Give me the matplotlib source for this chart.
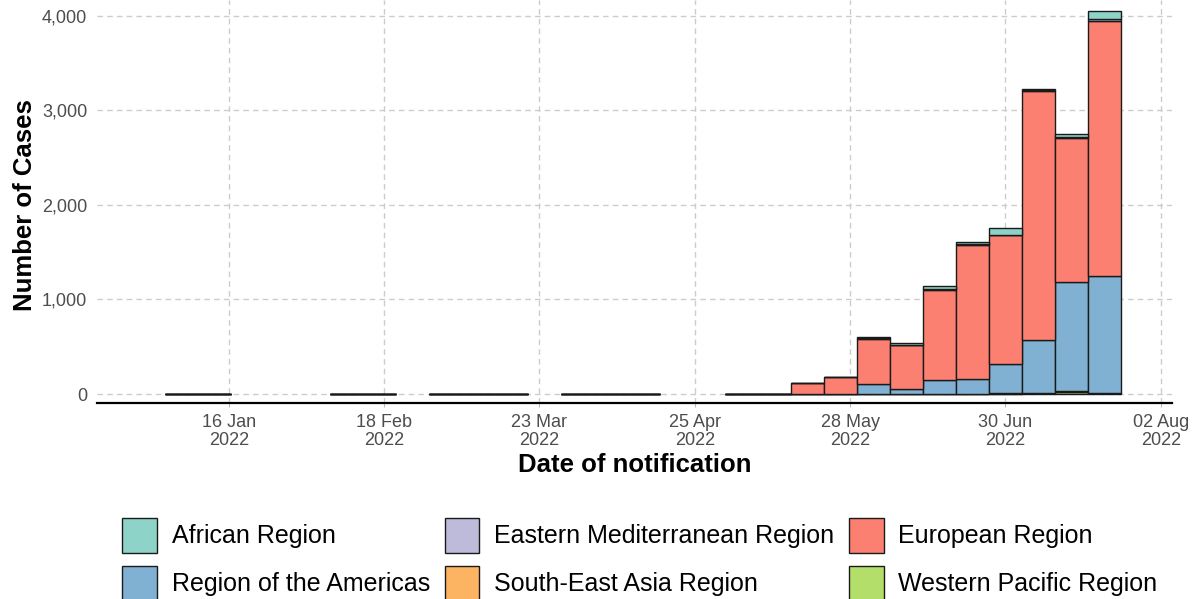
import numpy as np
import pandas as pd
import matplotlib
matplotlib.use("Agg")
import matplotlib.pyplot as plt
import matplotlib.dates as mdates
from matplotlib.patches import Patch
from matplotlib.ticker import FuncFormatter

plt.rcParams['font.family'] = ['Liberation Sans', 'DejaVu Sans']

# week centres (date of notification)
weeks = ["2022-01-06", "2022-01-13", "2022-02-10", "2022-02-17", "2022-03-03",
         "2022-03-10", "2022-03-17", "2022-03-31", "2022-04-07", "2022-04-14",
         "2022-05-05", "2022-05-12", "2022-05-19", "2022-05-26", "2022-06-02",
         "2022-06-09", "2022-06-16", "2022-06-23", "2022-06-30", "2022-07-07",
         "2022-07-14", "2022-07-21"]

# cases per region, stacked bottom -> top
western_pacific = [0]*12 + [0, 0, 3, 2, 3, 4, 5, 12, 20, 12]
south_east_asia = [0]*12 + [0, 0, 0, 0, 1, 1, 2, 3, 8, 2]
americas        = [0]*12 + [0, 5, 100, 55, 140, 158, 315, 553, 1157, 1238]
european        = [0]*12 + [118, 170, 480, 462, 955, 1412, 1357, 2640, 1520, 2692]
eastern_med     = [0]*12 + [0, 2, 5, 4, 8, 8, 5, 4, 8, 20]
african         = [0]*12 + [0, 8, 15, 12, 30, 25, 76, 8, 38, 80]

regions = ["Western Pacific Region", "South-East Asia Region", "Region of the Americas",
           "European Region", "Eastern Mediterranean Region", "African Region"]
series = [western_pacific, south_east_asia, americas, european, eastern_med, african]
colors = {"African Region": "#8DD3C7", "Eastern Mediterranean Region": "#BEBADA",
          "European Region": "#FB8072", "Region of the Americas": "#80B1D3",
          "South-East Asia Region": "#FDB462", "Western Pacific Region": "#B3DE69"}

tick_dates = ["2022-01-16", "2022-02-18", "2022-03-23", "2022-04-25",
              "2022-05-28", "2022-06-30", "2022-08-02"]

x = mdates.date2num(pd.to_datetime(weeks))

fig = plt.figure(figsize=(11.93, 5.99), dpi=100)
ax = fig.add_axes([97/1193, 1 - 403/599, 1075/1193, 403/599])

bottom = np.zeros(len(weeks))
for name, vals in zip(regions, series):
    vals = np.array(vals, dtype=float)
    ax.bar(x, vals, width=7, bottom=bottom, color=colors[name],
           edgecolor="#1a1a1a", linewidth=1.0, zorder=3)
    bottom += vals

ax.set_ylim(-95, 4165)
ax.set_xlim(mdates.date2num(pd.Timestamp("2021-12-19")),
            mdates.date2num(pd.Timestamp("2022-08-04 09:00")))
ax.set_yticks([0, 1000, 2000, 3000, 4000])
ax.yaxis.set_major_formatter(FuncFormatter(lambda v, p: f"{int(v):,}"))
ax.set_xticks(mdates.date2num(pd.to_datetime(tick_dates)))
ax.xaxis.set_major_formatter(mdates.DateFormatter("%d %b\n%Y"))

ax.grid(True, color="#CCCCCC", linestyle=(0, (4, 3)), linewidth=1.0, zorder=0)
for s in ["left", "right", "top"]:
    ax.spines[s].set_visible(False)
ax.spines["bottom"].set_linewidth(1.6)
ax.spines["bottom"].set_color("black")
ax.tick_params(axis="y", length=0, pad=7, labelsize=13, labelcolor="#4D4D4D")
ax.tick_params(axis="x", length=3, color="#BBBBBB", pad=5, labelsize=13,
               labelcolor="#4D4D4D")
for lbl in ax.get_xticklabels():
    lbl.set_linespacing(1.05)

ax.set_ylabel("Number of Cases", fontsize=18.5, fontweight="bold")
ax.yaxis.set_label_coords(-0.056, 0.491)
ax.set_xlabel("Date of notification", fontsize=18.5, fontweight="bold")
ax.xaxis.set_label_coords(0.5, -0.125)

order = ["African Region", "Region of the Americas", "Eastern Mediterranean Region",
         "South-East Asia Region", "European Region", "Western Pacific Region"]
handles = [Patch(facecolor=colors[n], edgecolor="#1a1a1a", linewidth=1.0) for n in order]
fig.legend(handles, order, loc="upper center", bbox_to_anchor=(640/1193, 1 - 505/599),
           ncol=3, frameon=False, fontsize=18, handlelength=1.37, handleheight=1.78,
           handletextpad=0.6, columnspacing=0.6, labelspacing=0.52, borderpad=0)

fig.savefig("out.png", dpi=100)
